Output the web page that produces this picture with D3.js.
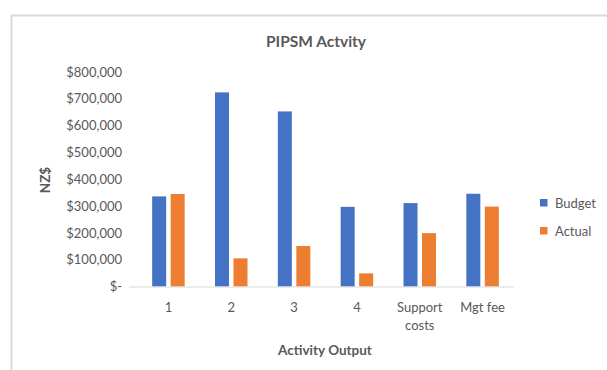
<!DOCTYPE html>
<html><head><meta charset="utf-8">
<script src="https://cdn.jsdelivr.net/npm/d3@7"></script>
<style>
html,body{margin:0;padding:0;background:#fff;}
svg{display:block;}
svg text{font-family:Lato,"Open Sans",sans-serif;}
</style></head>
<body><svg id="c" width="607" height="370"></svg>
<script>
const categories = ["1","2","3","4","Support costs","Mgt fee"];
const budget = [336000, 724000, 653000, 297000, 311000, 346000];
const actual = [345000, 105000, 151000, 49000, 199000, 298000];
const seriesNames = ["Budget","Actual"];
const yTicks = [0,100000,200000,300000,400000,500000,600000,700000,800000];
const colors = ["#4472C4","#ED7D31"];
const textColor = "#595959";

const svg = d3.select("#c");
// frame
svg.append("line").attr("x1",11).attr("x2",607).attr("y1",15.5).attr("y2",15.5).attr("stroke","#d9d9d9").attr("stroke-width",2);
svg.append("line").attr("x1",11.5).attr("x2",11.5).attr("y1",15).attr("y2",370).attr("stroke","#d9d9d9").attr("stroke-width",2);

const x = d3.scaleBand().domain(categories).range([137,514]);
const y = d3.scaleLinear().domain([0,800000]).range([286.5,72]);

const barW = 14, gap = 4.5;
const data = categories.map((c,i)=>({c, vals:[budget[i], actual[i]]}));
const g = svg.append("g");
data.forEach(d=>{
  d.vals.forEach((v,j)=>{
    const cx = x(d.c) + x.bandwidth()/2;
    const x0 = j===0 ? cx - gap/2 - barW : cx + gap/2;
    g.append("rect").attr("x",x0).attr("width",barW)
      .attr("y",y(v)).attr("height",y(0)-y(v)).attr("fill",colors[j]);
  });
});

// baseline
svg.append("line").attr("x1",129).attr("x2",514).attr("y1",y(0)+0.5).attr("y2",y(0)+0.5).attr("stroke","#d9d9d9").attr("stroke-width",1);

// y axis labels
const fmt = v => v===0 ? "$-" : "$" + d3.format(",")(v);
const yAxis = d3.axisLeft(y).tickValues(yTicks).tickFormat(fmt).tickSize(0).tickPadding(0);
const ya = svg.append("g").attr("transform","translate(122,0)").call(yAxis).attr("font-family",null);
ya.select(".domain").remove();
ya.selectAll("text").attr("fill",textColor).style("font-size","13px");

// x axis labels
const xAxis = d3.axisBottom(x).tickSize(0).tickPadding(0).tickFormat("");
const xa = svg.append("g").attr("transform",`translate(0,${y(0)})`).call(xAxis).attr("font-family",null);
xa.select(".domain").remove();
xa.selectAll(".tick").each(function(d){
  const t = d3.select(this).append("text").attr("fill",textColor).attr("text-anchor","middle")
    .style("font-size","13px");
  const parts = d === "Support costs" ? ["Support","costs"] : [d];
  parts.forEach((p,k)=>t.append("tspan").attr("x",0).attr("y",25 + k*18).text(p));
});

// titles
svg.append("text").attr("x",316).attr("y",47).attr("text-anchor","middle").attr("fill",textColor)
  .style("font-size","15.5px").style("font-weight","bold").text("PIPSM Actvity");
svg.append("text").attr("x",325).attr("y",355).attr("text-anchor","middle").attr("fill",textColor)
  .style("font-size","13.5px").style("font-weight","bold").text("Activity Output");
svg.append("text").attr("transform","translate(50,180) rotate(-90)").attr("text-anchor","middle").attr("fill",textColor)
  .style("font-size","13.5px").style("font-weight","bold").text("NZ$");

// legend
const lg = svg.append("g");
seriesNames.forEach((s,i)=>{
  const ly = 203 + i*28;
  lg.append("rect").attr("x",540).attr("y",ly-4).attr("width",7.5).attr("height",7.5).attr("fill",colors[i]);
  lg.append("text").attr("x",555).attr("y",ly+4.5).attr("fill",textColor).style("font-size","13px").text(s);
});
</script></body></html>
